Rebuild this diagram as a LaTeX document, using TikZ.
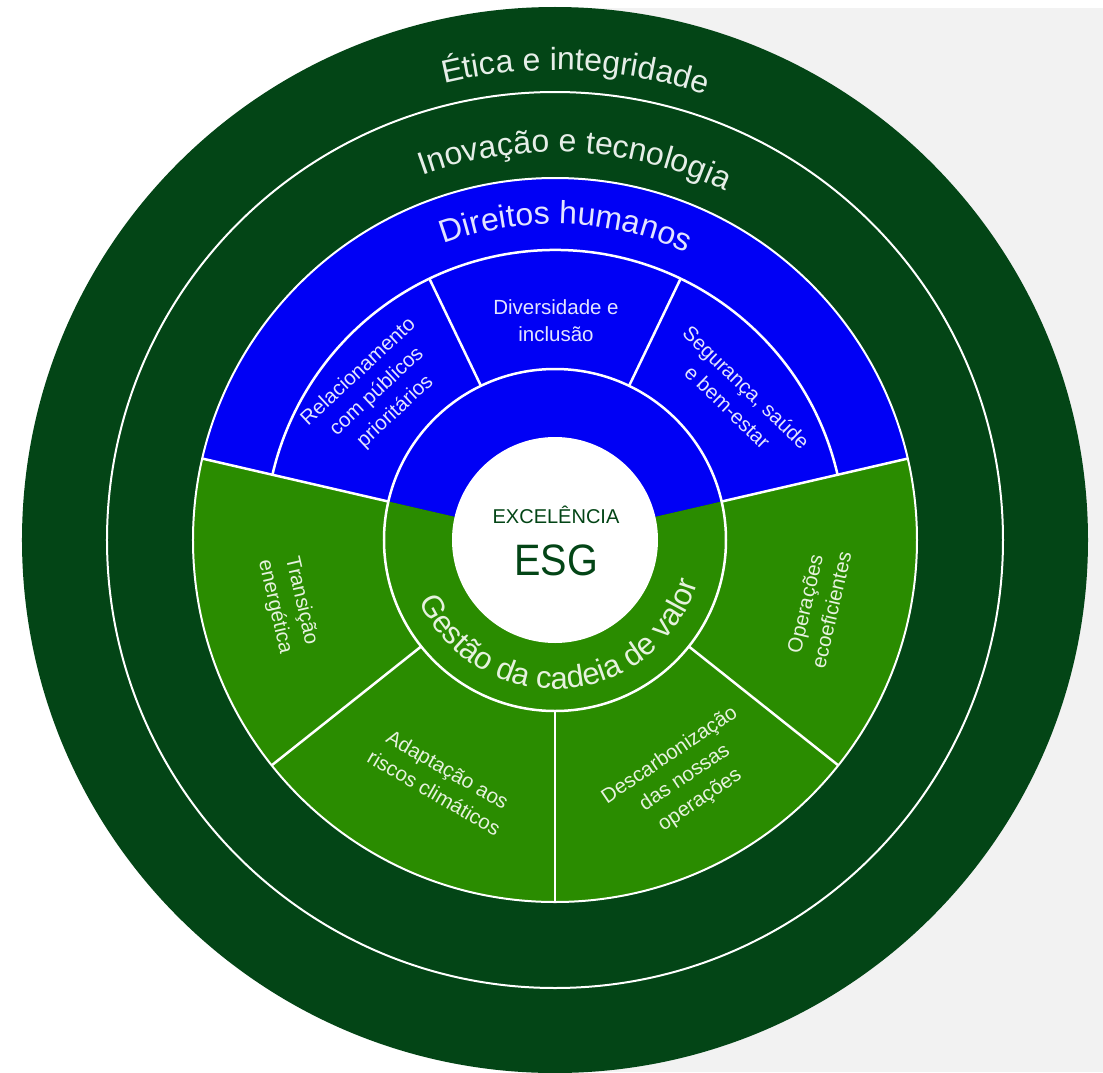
\documentclass[tikz,border=0pt]{standalone}
\usepackage{fontspec}
\setmainfont{Liberation Sans}
\usetikzlibrary{decorations.text}
\definecolor{dkgreen}{HTML}{034516}
\definecolor{midgreen}{HTML}{2A8C00}
\definecolor{esgblue}{HTML}{0000F5}
\definecolor{bggrey}{HTML}{F2F2F2}
\definecolor{txtblue}{HTML}{E2E4FF}
\definecolor{txtgreen}{HTML}{E6F2DE}
\definecolor{txtdark}{HTML}{E6EEE8}
\begin{document}
\begin{tikzpicture}[x=1pt,y=1pt,
  sep/.style={white, line width=2.5pt},
  ring/.style={white, line width=2pt},
  lbl/.style={align=center, font=\fontsize{20.5}{27}\selectfont, inner sep=0pt},
  bluelbl/.style={lbl, text=txtblue},
  greenlbl/.style={lbl, text=txtgreen},
]
\useasboundingbox (-555,-532) rectangle (548,540);
\fill[white] (-555,-532) rectangle (548,540);
\fill[bggrey] (5,-532) rectangle (548,532);
% rings
\fill[dkgreen] (0,0) circle[radius=533];
\draw[ring] (0,0) circle[radius=448];
\fill[esgblue] (0,0) -- (13:362) arc[start angle=13, end angle=167, radius=362] -- cycle;
\fill[midgreen] (0,0) -- (167:362) arc[start angle=167, end angle=373, radius=362] -- cycle;
\draw[ring] (0,0) circle[radius=362];
\draw[sep] (13:290) arc[start angle=13, end angle=167, radius=290];
\draw[sep] (0,0) circle[radius=171];
\foreach \a in {13,167,218.5,270,321.5} \draw[sep] (\a:171) -- (\a:362);
\foreach \a in {64.33,115.67} \draw[sep] (\a:171) -- (\a:290);
\fill[white] (0,0) circle[radius=103];
% curved titles
\path[decorate, decoration={text along path, text align=center, text color=txtdark,
  text={|\fontsize{32}{32}\selectfont|Ética e integridade}}]
  (117.5:470) arc[start angle=117.5, end angle=57.5, radius=470];
\path[decorate, decoration={text along path, text align=center, text color=txtdark,
  text={|\fontsize{32}{32}\selectfont|Inovação e tecnologia}}]
  (127:388) arc[start angle=127, end angle=47, radius=388];
\path[decorate, decoration={text along path, text align=center, text color=txtblue,
  text={|\fontsize{32}{32}\selectfont|Direitos humanos}}]
  (128:316) arc[start angle=128, end angle=48, radius=316];
\path[decorate, decoration={text along path, text align=center, text color=txtgreen,
  text={|\fontsize{31}{31}\selectfont|Gestão da cadeia de valor}}]
  (193.7:149) arc[start angle=193.7, end angle=353.7, radius=149];
% sector labels
\node[bluelbl] (div) at (1,219) {Diversidade e\\inclusão};
\node[bluelbl, rotate=43] (rel) at (-178,148) {Relacionamento\\com públicos\\prioritários};
\node[bluelbl, rotate=-44] (seg) at (182,143) {Segurança, saúde\\e bem-estar};
\node[greenlbl, rotate=-77] (tra) at (-267,-64) {Transição\\energética};
\node[greenlbl, rotate=77] (ope) at (263,-67) {Operações\\ecoeficientes};
\node[greenlbl, rotate=-30] (ada) at (-114,-241) {Adaptação aos\\riscos climáticos};
\node[greenlbl, rotate=34] (des) at (130,-238) {Descarbonização\\das nossas\\operações};
% centre
\node[anchor=base, font=\fontsize{20}{20}\selectfont, text=dkgreen, inner sep=0pt] (exc) at (1,17) {EXCELÊNCIA};
\node[anchor=base, font=\fontsize{44}{44}\selectfont, text=dkgreen, inner sep=0pt] (esg) at (1,-35) {\scalebox{0.9}[1]{ESG}};
\end{tikzpicture}
\end{document}
